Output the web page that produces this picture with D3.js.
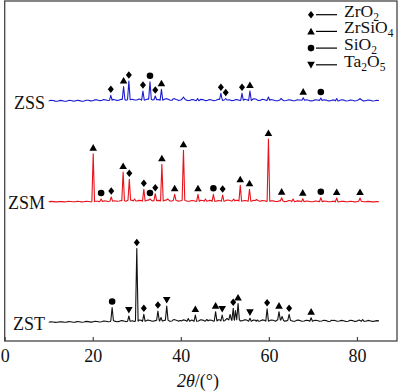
<!DOCTYPE html>
<html><head><meta charset="utf-8">
<script src="https://cdn.jsdelivr.net/npm/d3@7"></script>
<style>
body{margin:0;background:#fff}
svg{display:block}
text{font-family:"Liberation Serif","Times New Roman",serif;fill:#111}
</style>
</head><body>
<svg id="c" width="400" height="392"></svg>
<script>
// ---------- data ----------
const xTicks = [0, 20, 40, 60, 80];
const noiseStart = 10;   // 2θ of first baseline sample
const noiseStep = 0.5;   // degrees between baseline samples
const seriesNames = ["ZSS", "ZSM", "ZST"];
const seriesColors = ["#1c1ccf", "#e8131c", "#111111"];
const seriesOffsets = [239.5, 139, 18.5];

const zssNoise = [
  0.5,1.2,1.0,0.4,0.3,1.1,0.9,0.2,0.2,1.0,1.1,0.4,0.5,1.3,0.9,0.3,0.4,1.2,1.2,0.6,
  0.8,1.7,1.6,0.9,1.0,1.9,1.5,1.0,1.2,2.1,1.8,1.1,1.4,2.2,2.0,1.2,1.8,2.6,2.3,1.5,
  1.5,2.4,2.0,1.3,1.8,2.6,2.3,1.6,1.8,2.5,2.0,1.2,1.5,2.7,2.6,1.4,1.2,2.3,1.9,1.0,
  1.5,2.5,2.1,1.0,1.0,2.0,1.6,0.8,0.8,2.1,1.9,0.9,1.0,1.9,1.5,0.8,1.2,2.3,2.0,1.1,
  1.5,2.2,1.8,0.9,1.0,2.0,1.6,0.9,1.2,2.2,1.8,1.0,1.5,2.8,2.5,1.1,1.0,2.2,1.8,0.9,
  1.2,1.9,1.5,0.7,0.8,1.9,1.6,0.8,1.0,1.8,1.4,0.7,0.9,1.8,1.5,0.8,1.2,1.7,1.3,0.6,
  0.8,1.8,1.5,0.8,1.1,1.8,1.4,0.6,0.7,1.6,1.3,0.6,0.9,1.7,1.4,0.5,0.8,1.5,1.2,0.5,
  1.0,1.7,1.4,0.6,0.7,1.5,1.2,0.5,0.8,1.3,1.0];
const zsmNoise = [
  0.2,0.6,0.4,0.1,0.1,0.5,0.4,0.1,0.2,0.6,0.5,0.2,0.3,0.7,0.5,0.1,0.3,0.7,0.5,0.2,
  0.4,0.9,0.8,0.4,0.6,1.1,1.0,0.5,0.8,1.3,1.2,0.7,1.0,1.5,1.3,0.8,1.0,1.7,1.6,1.0,
  1.0,1.6,1.4,0.9,1.2,1.9,1.8,1.1,1.4,1.8,1.6,1.1,1.2,2.0,1.8,1.0,1.0,1.7,1.5,0.9,
  1.2,1.8,1.6,0.8,0.8,1.5,1.3,0.6,0.7,1.7,1.5,0.8,0.9,1.6,1.4,0.7,0.8,1.4,1.2,0.7,
  1.0,2.0,1.8,1.0,1.2,1.8,1.6,0.9,1.0,1.5,1.3,0.7,0.8,1.7,1.5,0.7,0.8,1.4,1.2,0.6,
  0.7,1.3,1.1,0.5,0.6,1.2,1.0,0.4,0.5,1.4,1.2,0.4,0.5,1.1,0.9,0.3,0.4,1.0,0.8,0.3,
  0.3,1.0,0.8,0.3,0.4,0.9,0.7,0.2,0.2,0.8,0.6,0.1,0.3,0.8,0.6,0.2,0.2,0.7,0.5,0.1,
  0.3,0.8,0.6,0.2,0.2,0.6,0.4,0.1,0.1,0.5,0.3];
const zstNoise = [
  0.2,0.7,0.5,0.1,0.2,0.8,0.6,0.2,0.3,0.9,0.7,0.3,0.4,1.0,0.8,0.3,0.5,1.1,0.9,0.4,
  0.6,1.3,1.0,0.5,0.8,1.5,1.2,0.7,1.0,1.7,1.4,0.8,1.1,1.9,1.6,0.9,1.2,2.1,1.8,1.0,
  1.4,2.5,2.2,1.2,1.5,2.4,2.0,1.2,1.6,2.5,2.2,1.4,1.8,2.7,2.4,1.3,1.5,2.5,2.2,1.3,
  1.6,2.6,2.3,1.2,1.4,2.4,2.0,1.2,1.5,2.7,2.4,1.3,1.6,2.5,2.2,1.2,1.5,2.8,2.5,1.5,
  1.8,2.9,2.6,1.8,2.2,3.1,2.8,1.6,1.8,2.7,2.4,1.3,1.6,2.5,2.2,1.2,1.5,2.6,2.3,1.4,
  1.6,2.5,2.2,1.3,1.5,2.7,2.4,1.4,1.6,2.3,2.0,1.2,1.4,2.4,2.1,1.2,1.5,2.3,2.0,1.2,
  1.4,2.3,2.0,1.2,1.5,2.2,1.9,1.0,1.3,2.3,2.0,1.2,1.5,2.1,1.8,1.0,1.2,2.2,1.9,1.1,
  1.4,2.5,2.2,1.2,1.3,2.1,1.8,1.1,1.4,1.9,1.6];

// [2θ, peak height, phase]  D=ZrO2 T=ZrSiO4 C=SiO2 V=Ta2O5
const zssPeaks = [
  [24.1,6.2,"D"],[27.0,15,"T"],[28.2,20.5,"D"],[31.4,10.5,"D"],[33.0,19.8,"C"],
  [34.2,5.5,"D"],[35.6,12.2,"T"],[38.5,3,null],[40.6,4.5,null],[43.8,3,null],
  [49.1,8.2,"D"],[50.2,3,"D"],[53.9,8.2,"D"],[55.7,10.5,"T"],[59.9,4.5,null],
  [62.8,3,null],[67.8,3.8,"T"],[71.8,3.5,"C"],[75.4,3,null],[80.7,3,null]];
const zsmPeaks = [
  [20.1,48.3,"T"],[21.9,3,"C"],[24.2,5,"D"],[26.9,30,"T"],[28.3,22.7,"D"],
  [29.5,3,null],[31.6,12.7,"D"],[33.0,3,"C"],[34.2,8.3,"D"],[35.7,37.7,"T"],
  [37.0,3,null],[38.6,7.7,"T"],[40.6,51.7,"T"],[43.9,7.7,"T"],[45.6,3,null],
  [47.4,7.7,"C"],[49.5,7,"D"],[52.0,3,null],[53.5,16.7,"T"],[55.6,12.7,"T"],
  [57.2,2.5,null],[59.9,63,"T"],[62.9,4.3,"T"],[65.5,3,null],[67.7,3.3,"T"],
  [71.8,4.3,"C"],[75.4,4,"T"],[80.7,4,"T"]];
const zstPeaks = [
  [24.4,15,"C"],[28.2,6.5,"V"],[30.0,74,"D"],[31.6,8.2,"D"],[34.8,11.5,"D"],
  [35.5,5,null],[36.8,16.5,"V"],[38.5,3,null],[39.9,2,null],[41.7,4,null],
  [43.3,7.5,"T"],[45.9,3,null],[47.9,10.8,"T"],[49.4,7.5,"V"],[50.5,4,null],
  [51.2,8,null],[51.9,14.2,"D"],[52.4,12,null],[53.0,19,"T"],[55.7,4.2,"V"],
  [57.4,2.5,null],[59.6,13.8,"D"],[62.3,10.8,"T"],[63.0,6,null],[64.6,8.2,"D"],
  [69.6,4.8,"T"],[74.5,2,null],[81.3,3,null]];

const legendKeys = ["D", "T", "C", "V"];
const legendLabels = [
  [["ZrO",0],["2",1]],
  [["ZrSiO",0],["4",1]],
  [["SiO",0],["2",1]],
  [["Ta",0],["2",1],["O",0],["5",1]]];

const allNoise = [zssNoise, zsmNoise, zstNoise];
const allPeaks = [zssPeaks, zsmPeaks, zstPeaks];

// ---------- drawing ----------
const svg = d3.select("#c");
const x = d3.scaleLinear().domain([0, 89.1]).range([4.7, 397]);
const y = d3.scaleLinear().domain([0, 340]).range([341, 1]);
const W = 0.3; // half-width of a peak, degrees

function buildPoints(noise, peaks) {
  const nearest = t => noise[Math.max(0, Math.min(noise.length - 1, Math.round((t - noiseStart) / noiseStep)))];
  const pts = noise.map((v, i) => [noiseStart + i * noiseStep, v])
    .filter(p => !peaks.some(k => Math.abs(k[0] - p[0]) < W + 0.05));
  peaks.forEach(k => {
    const f = nearest(k[0]);
    pts.push([k[0] - W, f], [k[0], k[1]], [k[0] + W, f]);
  });
  return pts.sort((a, b) => a[0] - b[0]);
}

function markerPath(type, cx, cy) {
  if (type === "D") return `M${cx},${cy-3.8}L${cx+3},${cy}L${cx},${cy+3.8}L${cx-3},${cy}Z`;
  if (type === "T") return `M${cx},${cy-3.6}L${cx+3.8},${cy+3}L${cx-3.8},${cy+3}Z`;
  if (type === "V") return `M${cx},${cy+3.6}L${cx+3.8},${cy-3}L${cx-3.8},${cy-3}Z`;
  return `M${cx+3.3},${cy}A3.3,3.3 0 1,1 ${cx-3.3},${cy}A3.3,3.3 0 1,1 ${cx+3.3},${cy}Z`;
}

// frame
svg.append("rect")
  .attr("x", x(0)).attr("y", y(340))
  .attr("width", x(89.1) - x(0)).attr("height", y(0) - y(340))
  .attr("fill", "none").attr("stroke", "#444").attr("stroke-width", 1.3);

// bottom axis
const ax = svg.append("g").attr("transform", `translate(0,${y(0)})`)
  .call(d3.axisBottom(x).tickValues(xTicks).tickSizeInner(-4).tickSizeOuter(0).tickPadding(8.7));
ax.select(".domain").remove();
ax.selectAll(".tick line").attr("stroke", "#444").attr("stroke-width", 1.2);
ax.selectAll(".tick text").attr("font-size", 18).attr("fill", "#111")
  .style("font-family", '"Liberation Serif","Times New Roman",serif');

// axis title
const tt = svg.append("text").attr("x", 198).attr("y", 387)
  .attr("text-anchor", "middle").attr("font-size", 18);
tt.append("tspan").attr("font-style", "italic").text("2θ");
tt.append("tspan").text("/(°)");

const line = d3.line().x(d => x(d[0])).y(d => y(d[1]));

seriesNames.forEach((name, si) => {
  const off = seriesOffsets[si];
  const pts = buildPoints(allNoise[si], allPeaks[si]).map(p => [p[0], p[1] + off]);
  svg.append("path").attr("d", line(pts))
    .attr("fill", "none").attr("stroke", seriesColors[si])
    .attr("stroke-width", 1.1).attr("stroke-linejoin", "round");
  svg.append("text").attr("x", 45).attr("y", y(off) + 7)
    .attr("text-anchor", "end").attr("font-size", 18).text(name);
  allPeaks[si].filter(k => k[2]).forEach(k => {
    svg.append("path").attr("d", markerPath(k[2], x(k[0]), y(k[1] + off) - 6))
      .attr("fill", "#000");
  });
});

// legend
legendKeys.forEach((k, i) => {
  const base = 16.7 + i * 16.7;
  const my = base - 2;
  svg.append("path").attr("d", markerPath(k, 311, my)).attr("fill", "#000");
  svg.append("line").attr("x1", 316).attr("x2", 337).attr("y1", my).attr("y2", my)
    .attr("stroke", "#000").attr("stroke-width", 1.2);
  const t = svg.append("text").attr("x", 344).attr("y", base).attr("font-size", 17.5);
  let shifted = false;
  legendLabels[i].forEach(([s, sub]) => {
    const ts = t.append("tspan").text(s);
    if (sub) { ts.attr("font-size", 11.5); if (!shifted) { ts.attr("dy", 3.8); shifted = true; } }
    else if (shifted) { ts.attr("dy", -3.8); shifted = false; }
  });
});
</script>
</body></html>
